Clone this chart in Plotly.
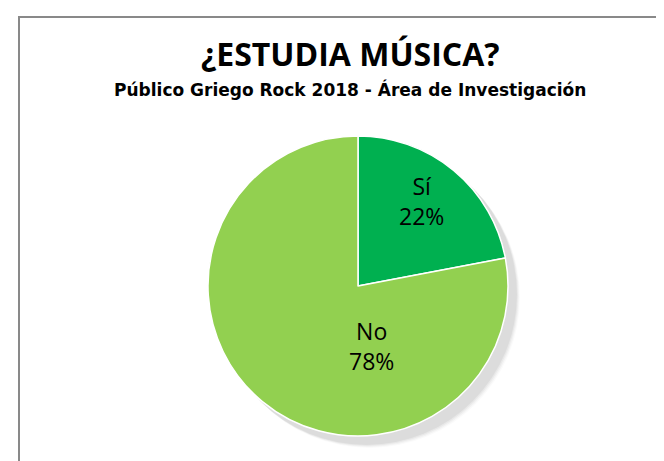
import plotly.graph_objects as go

labels = ["Sí", "No"]
values = [22, 78]
colors = ["#00B050", "#92D050"]

title = "¿ESTUDIA MÚSICA?"
subtitle = "Público Griego Rock 2018 - Área de Investigación"

W, H = 664, 461
cx, cy, r = 357, 285, 150
dx, dy = -7, -7  # observed plotly offset correction

fig = go.Figure(go.Pie(
    labels=labels,
    values=values,
    sort=False,
    direction="clockwise",
    rotation=0,
    marker=dict(colors=colors, line=dict(color="white", width=1.5)),
    textinfo="none",
    hoverinfo="label+percent",
    showlegend=False,
    domain=dict(x=[(cx + dx - r) / W, (cx + dx + r) / W],
                y=[(H - (cy + dy) - r) / H, (H - (cy + dy) + r) / H]),
))

# soft shadow behind the pie
for off, a in [(4, 0.02), (3, 0.03), (2, 0.04), (1, 0.05)]:
    fig.add_shape(type="circle", xref="paper", yref="paper", layer="below",
                  x0=(cx - r + off) / W, x1=(cx + r + off + 1) / W,
                  y0=(H - (cy + r + off + 1)) / H, y1=(H - (cy - r + off)) / H,
                  line=dict(width=0), fillcolor=f"rgba(0,0,0,{a})")

fig.add_shape(type="rect", xref="paper", yref="paper",
              x0=11 / W, x1=1.05, y0=-0.05, y1=1 - 9 / H,
              line=dict(color="#898989", width=2), fillcolor="rgba(0,0,0,0)")

# slice labels (text from data)
label_pos = [(413, 193), (363, 338)]
total = sum(values)
for lab, val, (lx, ly) in zip(labels, values, label_pos):
    fig.add_annotation(text=f"{lab}<br>{round(100 * val / total)}%", xref="paper", yref="paper",
                       x=lx / W, y=1 - ly / H, showarrow=False, xanchor="center", yanchor="middle",
                       font=dict(family="Open Sans, sans-serif", size=23, color="black"))

fig.add_annotation(text="<b>" + title + "</b>", xref="paper", yref="paper",
                   x=342 / W, y=1 - 45 / H, showarrow=False, xanchor="center", yanchor="middle",
                   font=dict(family="Open Sans, sans-serif", size=32, color="black"))
fig.add_annotation(text="<b>" + subtitle + "</b>", xref="paper", yref="paper",
                   x=342 / W, y=1 - 81 / H, showarrow=False, xanchor="center", yanchor="middle",
                   font=dict(family="DejaVu Sans, sans-serif", size=17, color="black"))

fig.update_layout(width=W, height=H, margin=dict(l=0, r=0, t=0, b=0),
                  paper_bgcolor="white", plot_bgcolor="white")

fig.write_html("out.html")
